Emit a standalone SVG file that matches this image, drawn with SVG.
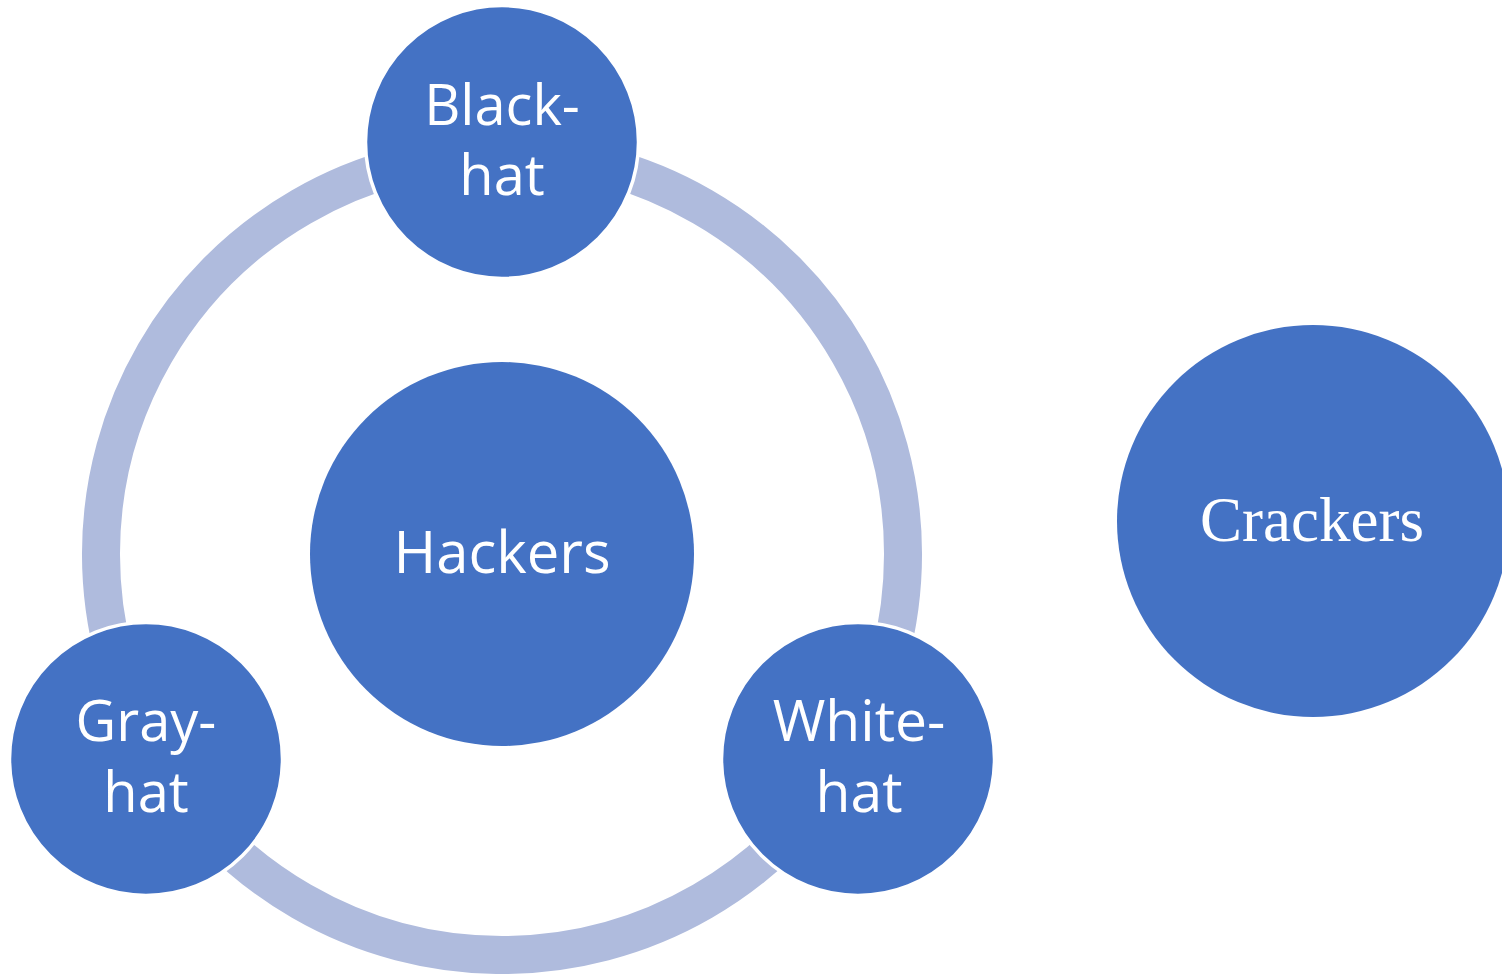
<svg xmlns="http://www.w3.org/2000/svg" width="1502" height="974" viewBox="0 0 1502 974">
<style>
.ring{fill:none;stroke:#AFBBDD;stroke-width:38;stroke-linecap:butt}
.node{fill:#4472C4;stroke:#FFFFFF;stroke-width:3.5}
.big{fill:#4472C4}
.lbl{font-family:"Open Sans","Liberation Sans",sans-serif;fill:#FFFFFF;text-anchor:middle}
.serif{font-family:"Liberation Serif","Times New Roman",serif;fill:#FFFFFF;text-anchor:middle}
</style>
<rect width="1502" height="974" fill="#FFFFFF"/>
<g id="connectors">
<path class="ring" d="M502,153 A401,401 0 0 1 849.3,754.5"/>
<path class="ring" d="M849.3,754.5 A401,401 0 0 1 154.7,754.5"/>
<path class="ring" d="M154.7,754.5 A401,401 0 0 1 502,153"/>
</g>
<g id="hackers">
<circle class="big" cx="502" cy="554" r="192"/>
<text class="lbl" x="502" y="573" font-size="58">Hackers</text>
</g>
<g id="black-hat">
<circle class="node" cx="502" cy="142" r="136.5"/>
<text class="lbl" x="502" y="125" font-size="56">Black-</text>
<text class="lbl" x="502" y="195" font-size="56">hat</text>
</g>
<g id="white-hat">
<circle class="node" cx="858" cy="759" r="136.5"/>
<text class="lbl" x="859" y="741" font-size="57">White-</text>
<text class="lbl" x="859" y="812" font-size="57">hat</text>
</g>
<g id="gray-hat">
<circle class="node" cx="146" cy="759" r="136.5"/>
<text class="lbl" x="146" y="741" font-size="56">Gray-</text>
<text class="lbl" x="146" y="812" font-size="56">hat</text>
</g>
<g id="crackers">
<circle class="big" cx="1313" cy="521" r="196"/>
<text class="serif" x="1312" y="541" font-size="63">Crackers</text>
</g>
</svg>
